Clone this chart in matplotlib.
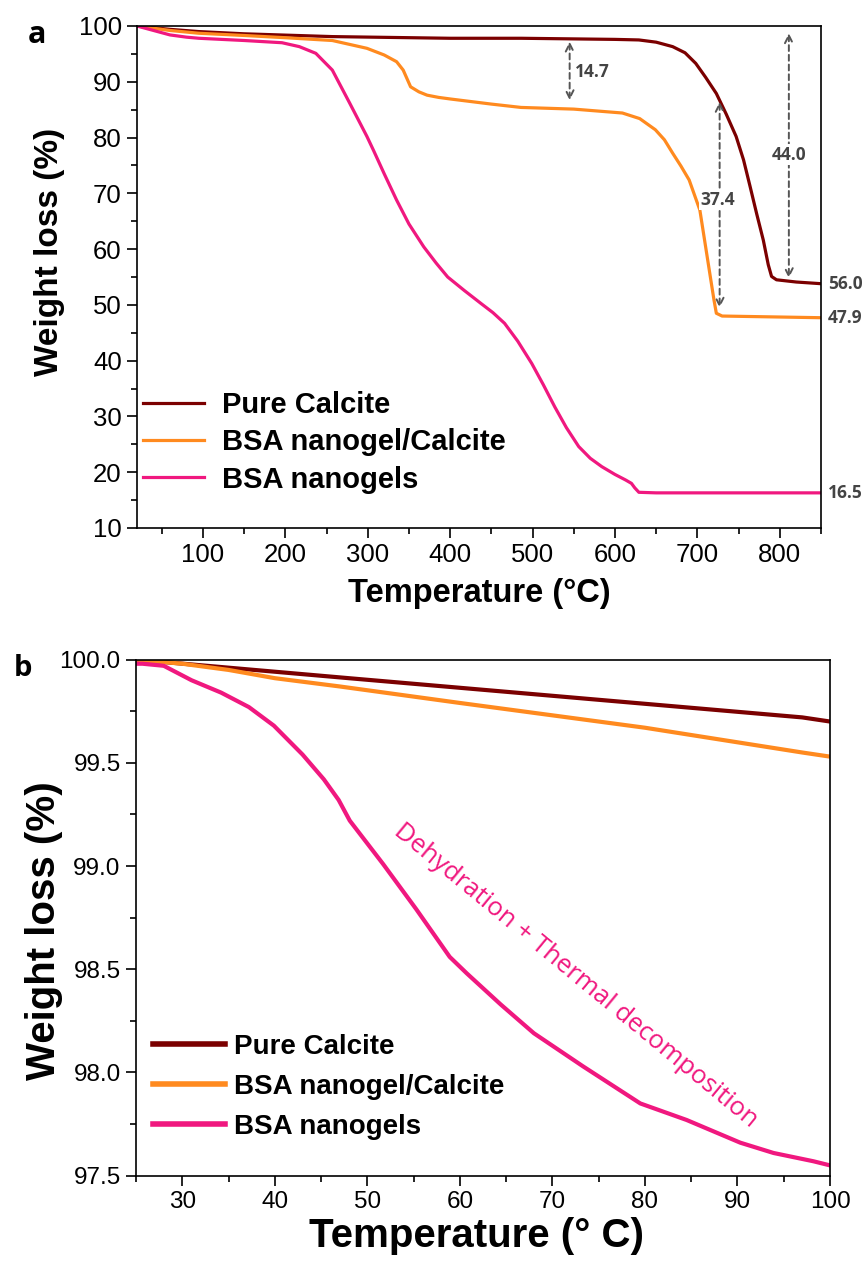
import matplotlib
matplotlib.use('Agg')
import matplotlib.pyplot as plt
from matplotlib.ticker import MultipleLocator

# ---- panel a : full TGA run ----
temp_calcite = [20, 40, 60, 95, 150, 257, 400, 486, 600, 629, 650, 670, 685, 698, 710,
                723, 735, 747, 756, 764, 772, 780, 786, 790, 796, 820, 850]
wt_calcite = [100, 99.7, 99.4, 99.0, 98.6, 98.1, 97.8, 97.8, 97.6, 97.5, 97.1, 96.3, 95.2, 93.3, 90.8,
              87.9, 84.2, 80.2, 76.0, 71.2, 66.3, 61.6, 57.2, 55.1, 54.5, 54.1, 53.8]

temp_nanogel = [20, 40, 60, 95, 150, 200, 257, 299, 320, 335, 343, 352, 362, 372, 386, 401,
                450, 486, 550, 609, 630, 649, 660, 670, 680, 690, 703, 715, 720, 723, 730, 850]
wt_nanogel = [100, 99.6, 99.2, 98.7, 98.3, 97.9, 97.4, 96.0, 94.8, 93.6, 92.1, 89.1, 88.2, 87.6, 87.2, 86.9,
              86.0, 85.4, 85.1, 84.4, 83.4, 81.4, 79.6, 77.2, 74.9, 72.4, 67.0, 55.7, 51.0, 48.5, 48.0, 47.7]

temp_bsa = [20, 40, 60, 80, 95, 150, 196, 217, 237, 257, 278, 299, 307, 320, 335, 350, 368, 383,
            397, 417, 437, 452, 466, 482, 499, 513, 527, 541, 556, 570, 584, 600, 613, 620, 624,
            629, 650, 850]
wt_bsa = [100, 99.2, 98.4, 98.0, 97.8, 97.4, 97.0, 96.3, 95.1, 92.1, 86.2, 80.2, 77.7, 73.5, 68.8, 64.5, 60.4, 57.5,
          55.0, 52.6, 50.3, 48.6, 46.7, 43.5, 39.5, 35.7, 31.7, 28.0, 24.6, 22.5, 21.0, 19.6, 18.6, 18.0, 17.2,
          16.4, 16.3, 16.3]

# ---- panel b : zoom 25-100 C ----
tb_calcite = [25, 48, 97, 100]
wb_calcite = [100.0, 99.91, 99.72, 99.70]
tb_nanogel = [25, 30, 35, 40, 47, 60, 80, 97, 100]
wb_nanogel = [100.0, 99.98, 99.95, 99.91, 99.87, 99.79, 99.67, 99.55, 99.53]
tb_bsa = [25, 25.7, 28, 31, 34.2, 37.2, 39.9, 43, 45.3, 46.9, 48.1, 51.7, 55.3, 58.9, 60.75,
          64.4, 68, 73.3, 79.5, 84.5, 90.3, 93.9, 98.2, 100]
wb_bsa = [99.98, 99.98, 99.97, 99.90, 99.84, 99.77, 99.68, 99.54, 99.42, 99.32, 99.22, 99.01, 98.79, 98.56, 98.48,
          98.33, 98.19, 98.03, 97.85, 97.77, 97.66, 97.61, 97.57, 97.55]

labels = ['Pure Calcite', 'BSA nanogel/Calcite', 'BSA nanogels']
colors = ['#7b0000', '#ff8a1f', '#f0187f']

plt.rcParams['font.family'] = ['Liberation Sans', 'DejaVu Sans']
annot_font = ['Open Sans', 'DejaVu Sans']
grey = '#555555'

fig = plt.figure(figsize=(8.67, 12.67), dpi=100)
ax1 = fig.add_axes([137/867, 1-528/1267, (821-137)/867, (528-26)/1267])
ax2 = fig.add_axes([136/867, 1-1175.7/1267, (830-136)/867, (1175.7-659.6)/1267])

ax1.plot(temp_calcite, wt_calcite, color=colors[0], lw=2.3, label=labels[0])
ax1.plot(temp_nanogel, wt_nanogel, color=colors[1], lw=2.3, label=labels[1])
ax1.plot(temp_bsa, wt_bsa, color=colors[2], lw=2.3, label=labels[2])
ax1.set_xlim(20, 850)
ax1.set_ylim(10, 100)
ax1.xaxis.set_major_locator(MultipleLocator(100))
ax1.xaxis.set_minor_locator(MultipleLocator(50))
ax1.yaxis.set_major_locator(MultipleLocator(10))
ax1.yaxis.set_minor_locator(MultipleLocator(5))
ax1.set_xticks(range(100, 801, 100))

# double arrows with values
arrows = [(545, 97.2, 86.7), (727, 86.4, 49.5), (811, 98.7, 54.8)]
for x, y0, y1 in arrows:
    ax1.annotate('', xy=(x, y1), xytext=(x, y0),
                 arrowprops=dict(arrowstyle='<->', ls=(0, (3, 2)), color=grey, lw=1.4,
                                 shrinkA=0, shrinkB=0, mutation_scale=14))
ax1.text(552, 91.8, '14.7', family=annot_font, weight='bold', fontsize=12.5, color='#444444',
         ha='left', va='center')
ax1.text(725, 68.8, '37.4', family=annot_font, weight='bold', fontsize=12.5, color='#444444',
         ha='center', va='center', bbox=dict(fc='white', ec='none', pad=1))
ax1.text(811, 76.9, '44.0', family=annot_font, weight='bold', fontsize=12.5, color='#444444',
         ha='center', va='center', bbox=dict(fc='white', ec='none', pad=1))
for v, txt in zip([wt_calcite[-1], wt_nanogel[-1], wt_bsa[-1]], ['56.0', '47.9', '16.5']):
    ax1.text(1.01, v, txt, transform=ax1.get_yaxis_transform(), family=annot_font,
             weight='bold', fontsize=12.5, color='#444444', ha='left', va='center')

ax2.plot(tb_calcite, wb_calcite, color=colors[0], lw=3, label=labels[0])
ax2.plot(tb_nanogel, wb_nanogel, color=colors[1], lw=3, label=labels[1])
ax2.plot(tb_bsa, wb_bsa, color=colors[2], lw=3, label=labels[2])
ax2.set_xlim(25, 100)
ax2.set_ylim(97.5, 100.0)
ax2.xaxis.set_major_locator(MultipleLocator(10))
ax2.xaxis.set_minor_locator(MultipleLocator(5))
ax2.yaxis.set_major_locator(MultipleLocator(0.5))
ax2.yaxis.set_minor_locator(MultipleLocator(0.25))
ax2.yaxis.set_major_formatter(plt.FormatStrFormatter('%.1f'))
ax2.text(72.5, 98.47, 'Dehydration + Thermal decomposition', family=annot_font, fontsize=18.5,
         color=colors[2], rotation=-39.5, rotation_mode='anchor', ha='center', va='center')

for ax, ls in ((ax1, 18.5), (ax2, 17.5)):
    ax.tick_params(which='major', direction='out', length=7, width=1.2, labelsize=ls,
                   top=False, right=False, pad=4)
    ax.tick_params(which='minor', direction='out', length=4, width=1.2, top=False, right=False)
    for s in ax.spines.values():
        s.set_linewidth(1.2)

ax1.set_ylabel('Weight loss (%)', fontsize=24, weight='bold')
ax1.yaxis.set_label_coords(-0.105, 0.55)
ax1.set_xlabel('Temperature (\u00b0C)', fontsize=23.5, weight='bold')
ax1.xaxis.set_label_coords(0.5, -0.1)
ax2.set_ylabel('Weight loss (%)', fontsize=29, weight='bold')
ax2.yaxis.set_label_coords(-0.105, 0.475)
ax2.set_xlabel('Temperature (\u00b0 C)', fontsize=29, weight='bold')
ax2.xaxis.set_label_coords(0.49, -0.08)

leg1 = ax1.legend(loc='upper left', bbox_to_anchor=(0.009, 0.272), frameon=False,
                  prop=dict(weight='bold', size=21), handlelength=2.1, handletextpad=0.6,
                  labelspacing=0.31, borderaxespad=0, borderpad=0)
leg2 = ax2.legend(loc='upper left', bbox_to_anchor=(0.0245, 0.275), frameon=False,
                  prop=dict(weight='bold', size=20), handlelength=2.6, handletextpad=0.33,
                  labelspacing=0.5, borderaxespad=0, borderpad=0)
for line in leg2.get_lines():
    line.set_linewidth(4)

fig.text(37/867, 1-35/1267, 'a', family=annot_font, weight='bold', fontsize=22, ha='center', va='center')
fig.text(23/867, 1-668/1267, 'b', family=annot_font, weight='bold', fontsize=21, ha='center', va='center')

fig.savefig('out.png', dpi=100)
